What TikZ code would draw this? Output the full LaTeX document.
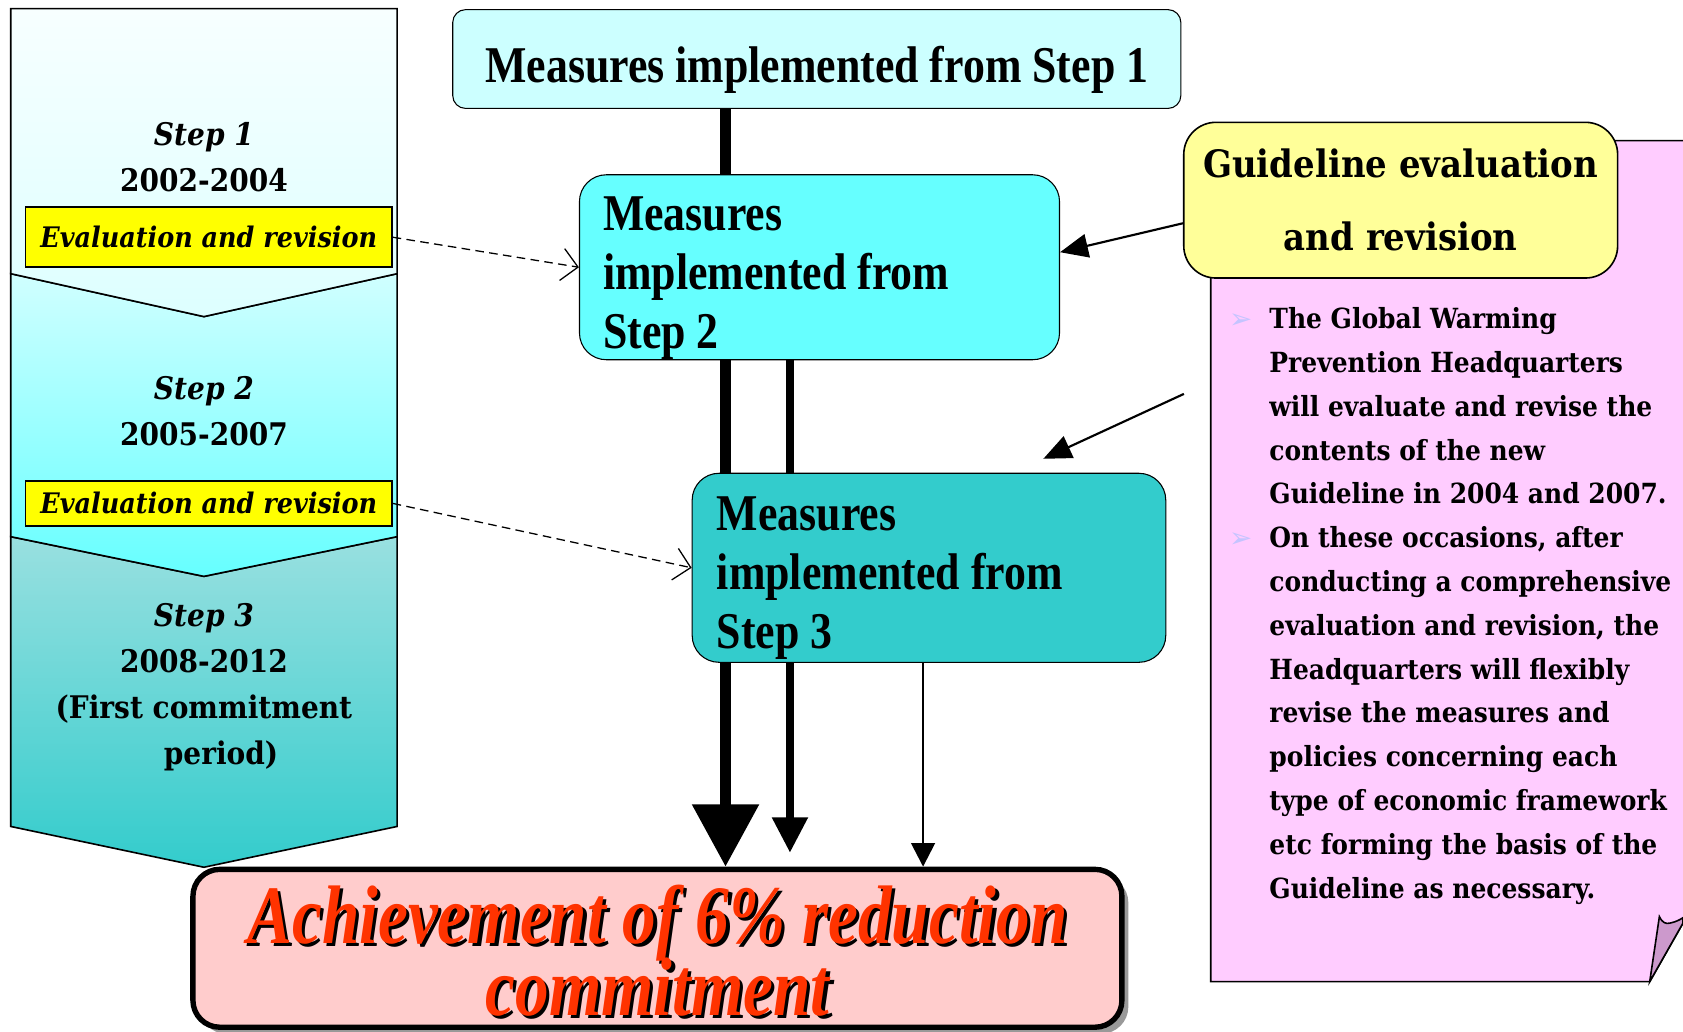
\documentclass[tikz,border=0pt]{standalone}
\usepackage{fontspec}
\usetikzlibrary{positioning,arrows.meta,shadows,calc}
\newfontfamily\narrowserif[FakeStretch=0.85]{Liberation Serif}
\newfontfamily\goalserif[FakeStretch=0.81]{Liberation Serif}
\newfontfamily\wideserif[FakeStretch=0.9]{DejaVu Serif}
\newfontfamily\symbolfont{DejaVu Sans}
\definecolor{stepone}{HTML}{CCFFFF}
\definecolor{steptwo}{HTML}{66FFFF}
\definecolor{stepthree}{HTML}{33CCCC}
\definecolor{chevonetop}{HTML}{F7FFFF}
\definecolor{chevonebot}{HTML}{DDFFFF}
\definecolor{chevtwotop}{HTML}{D0FFFF}
\definecolor{chevtwobot}{HTML}{66FFFF}
\definecolor{chevthreetop}{HTML}{99E0E0}
\definecolor{chevthreebot}{HTML}{33CCCC}
\definecolor{evalyellow}{HTML}{FFFF00}
\definecolor{guideyellow}{HTML}{FFFF99}
\definecolor{notepink}{HTML}{FFCCFF}
\definecolor{foldpink}{HTML}{CC99CC}
\definecolor{goalpink}{HTML}{FFCCCC}
\definecolor{goalred}{HTML}{FF3300}
\definecolor{bulletblue}{HTML}{C4C4FF}
\newcommand{\castshadow}[1]{\leavevmode\rlap{\kern0.9pt\raisebox{-0.9pt}{\color{black}#1}}{\color{goalred}#1}}
\newcommand{\tightlines}{\lineskiplimit=-100pt\relax}
\tikzset{
	plan/.style={x=0.01cm,y=-0.01cm},
	stage/.style={draw,line width=0.015cm},
	stagetext/.style={font=\wideserif\bfseries\fontsize{8.25}{12.2}\selectfont,align=center,inner sep=0pt},
	evalbox/.style={draw,fill=evalyellow,line width=0.015cm,minimum width=3.41cm,inner sep=0pt,
		font=\wideserif\bfseries\itshape\fontsize{7.5}{9}\selectfont},
	measure/.style={draw,line width=0.01cm,rounded corners=0.25cm,inner ysep=0pt,
		font=\narrowserif\bfseries\fontsize{13.66}{15.65}\selectfont},
	goalbox/.style={draw,line width=0.05cm,rounded corners=0.25cm,fill=goalpink,align=center,
		minimum width=8.65cm,minimum height=1.47cm,inner sep=0pt,text height=36.3pt,text depth=0.9pt,
		drop shadow={shadow xshift=0.06cm,shadow yshift=-0.06cm,fill=black!40,opacity=1},
		font=\goalserif\bfseries\itshape\fontsize{22}{19}\selectfont\tightlines},
	guidebox/.style={draw,line width=0.015cm,rounded corners=0.3cm,fill=guideyellow,align=center,
		minimum width=4.04cm,minimum height=1.45cm,inner sep=0pt,
		font=\wideserif\bfseries\fontsize{10}{19.35}\selectfont},
	notetext/.style={align=left,inner sep=0pt,font=\wideserif\bfseries\fontsize{7.35}{11.6}\selectfont},
	dashlink/.style={dash pattern=on 0.08cm off 0.05cm,line width=0.012cm,
		-{Straight Barb[length=0.15cm,width=0.3cm]}},
	guidelink/.style={line width=0.02cm,-{Triangle[width=0.22cm,length=0.26cm]}}
}
\newcommand{\notebullet}{\llap{\textcolor{bulletblue}{\symbolfont ➢}\hspace{0.16cm}}}

\begin{document}
\begin{tikzpicture}[plan]
	\useasboundingbox (0,0) rectangle (1568,961);
	
	% time line
	\draw[stage,top color=chevthreetop,bottom color=chevthreebot] (10,500) -- (190,537) -- (370,500) -- (370,770) -- (190,808) -- (10,770) -- cycle;
	\draw[stage,top color=chevtwotop,bottom color=chevtwobot] (10,255) -- (190,295) -- (370,255) -- (370,500) -- (190,537) -- (10,500) -- cycle;
	\draw[stage,top color=chevonetop,bottom color=chevonebot] (10,8) -- (370,8) -- (370,255) -- (190,295) -- (10,255) -- cycle;
	
	\node[stagetext] (p1) at (190,146) {{\itshape Step 1}\\2002-2004};
	\node[stagetext] (p2) at (190,383) {{\itshape Step 2}\\2005-2007};
	\node[stagetext] (p3) at (190,640) {{\itshape Step 3}\\2008-2012\\(First commitment\\\hspace*{1.1em}period)};
	
	\node[evalbox,minimum height=0.56cm] (ev1) at (194.5,221) {Evaluation and revision};
	\node[evalbox,minimum height=0.42cm] (ev2) at (194.5,469) {Evaluation and revision};
	
	% note on the right
	\fill[notepink] (1128,131) -- (1568,131) -- (1568,860) -- (1537,914.6) -- (1128,914.6) -- cycle;
	\draw[line width=0.015cm] (1568,131) -- (1128,131) -- (1128,914.6) -- (1537,914.6) -- (1568,860);
	\filldraw[fill=foldpink,line width=0.015cm] (1537,914.6) -- (1546,854) .. controls (1549,860) and (1552,861) .. (1556,860) .. controls (1561,859) and (1565,857) .. (1568,855) -- (1568,860) -- cycle;
	
	\node[guidebox] (guide) at (1305,186.5) {Guideline evaluation\\and revision};
	\node[notetext,anchor=north west] (notes) at (1182,286) {\notebullet The Global Warming\\
		Prevention Headquarters\\
		will evaluate and revise the\\
		contents of the new\\
		Guideline in 2004 and 2007.\\
		\notebullet On these occasions, after\\
		conducting a comprehensive\\
		evaluation and revision, the\\
		Headquarters will flexibly\\
		revise the measures and\\
		policies concerning each\\
		type of economic framework\\
		etc forming the basis of the\\
		Guideline as necessary.};
	
	% measures and goal
	\node[measure,fill=stepone,rounded corners=0.12cm,minimum width=6.78cm,minimum height=0.92cm,
		text height=12.3pt,text depth=0pt] (m1) at (761,55) {Measures implemented from Step 1};
	\node[goalbox] (goal) at (612.5,883.5) {\castshadow{Achievement of 6\% reduction}\\\castshadow{commitment}};
	\draw[line width=0.1cm,-{Triangle[width=0.6cm,length=0.58cm]}] ([xshift=-0.85cm]m1.south) -- ([xshift=-0.85cm]m1.south |- goal.north);
	
	\node[measure,fill=steptwo,align=flush left,minimum width=4.47cm,minimum height=1.68cm,inner xsep=0.22cm,text width=4.03cm,
		text height=14.7pt,text depth=34.3pt] (m2) at (763.5,249) {Measures\\implemented from\\Step 2};
	\draw[line width=0.07cm,shorten >=0.13cm,-{Triangle[width=0.32cm,length=0.33cm]}] ([xshift=-0.275cm]m2.south) -- ([xshift=-0.275cm]m2.south |- goal.north);
	
	\node[measure,fill=stepthree,align=flush left,minimum width=4.41cm,minimum height=1.76cm,inner xsep=0.23cm,text width=3.95cm,
		text height=14.7pt,text depth=34.3pt] (m3) at (865.5,529) {Measures\\implemented from\\Step 3};
	\draw[line width=0.025cm,-{Triangle[width=0.22cm,length=0.22cm]}] ([xshift=-0.055cm]m3.south) -- ([xshift=-0.055cm]m3.south |- goal.north);
	
	% links
	\draw[dashlink] (ev1.east) -- (m2.west);
	\draw[dashlink] (ev2.east) -- (m3.west);
	\coordinate (noteleft) at (1103,367);
	\draw[guidelink] ([yshift=-0.215cm]guide.west) -- ([yshift=0.14cm]m2.east);
	\draw[guidelink] (noteleft) -- ([xshift=1.065cm,yshift=0.13cm]m3.north);
\end{tikzpicture}
\end{document}
